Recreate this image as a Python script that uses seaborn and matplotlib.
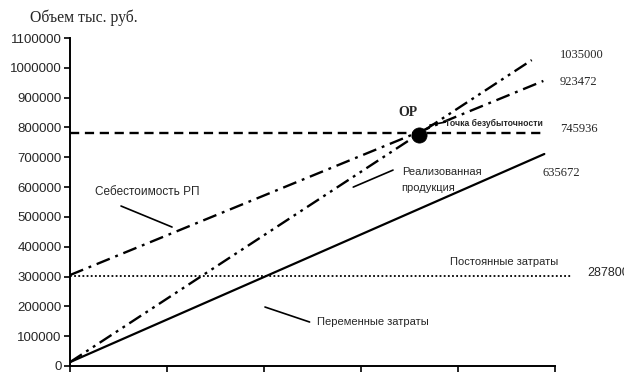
import matplotlib
matplotlib.use("Agg")
import matplotlib.pyplot as plt
from matplotlib.transforms import Bbox, TransformedBbox
import seaborn as sns
import numpy as np

# ---- data ----
revenue_x = [0.0, 4.76]
revenue_y = [13000, 1026000]
cost_x = [0.0, 4.88]
cost_y = [305000, 956000]
variable_x = [0.0, 4.89]
variable_y = [13000, 711000]
fixed_x = [0.0, 5.16]
fixed_y = [302000, 302000]
breakeven_x = [0.0, 4.87]
breakeven_y = [782000, 782000]
op_x = [3.60]
op_y = [774500]

value_labels = ["1035000", "923472", "745936", "635672", "287800"]
y_ticks = [0, 100000, 200000, 300000, 400000, 500000, 600000, 700000,
           800000, 900000, 1000000, 1100000]
x_ticks = [0, 1, 2, 3, 4, 5]

sns.set_style("ticks")
plt.rcParams['font.family'] = ['Liberation Sans', 'DejaVu Sans']

fig = plt.figure(figsize=(6.37, 3.75), dpi=100)
ax = fig.add_axes([70/637, 9/375, 485/637, 328/375])

def line(xs, ys, ls, lw=1.5, clip=True):
    sns.lineplot(x=xs, y=ys, color="black", ax=ax, lw=lw)
    ln = ax.lines[-1]
    ln.set_linestyle(ls)
    ln.set_clip_on(clip)

line(revenue_x, revenue_y, (0, (6, 2.2, 1.2, 2.2, 1.2, 2.2)), lw=1.7)
line(cost_x, cost_y, (0, (6, 2.5, 1.2, 2.5)), lw=1.7)
line(variable_x, variable_y, "-", lw=1.6)
line(fixed_x, fixed_y, (0, (1, 1.3)), lw=1.3, clip=False)
line(breakeven_x, breakeven_y, (0, (3.9, 2.4)), lw=1.7)

sns.scatterplot(x=op_x, y=op_y, s=120, color="black", edgecolor="black",
                linewidth=0.5, ax=ax, zorder=5, clip_on=False)

ax.set_xlim(0, 5)
ax.set_ylim(0, 1100000)
ax.set_xticks(x_ticks)
ax.set_xticklabels([])
ax.set_yticks(y_ticks)
ax.set_yticklabels([str(v) for v in y_ticks], fontsize=9.5)
ax.tick_params(axis="both", direction="out", length=4, width=1.2, color="black", pad=2)
for s in ["top", "right"]:
    ax.spines[s].set_visible(False)
for s in ["left", "bottom"]:
    ax.spines[s].set_linewidth(1.4)
    ax.spines[s].set_color("black")

serif = "Liberation Serif"

# value labels on the right
ax.text(5.05, 1042800, value_labels[0], family=serif, fontsize=9, va="center", ha="left", clip_on=False)
ax.text(5.05, 952000, value_labels[1], family=serif, fontsize=9, va="center", ha="left", clip_on=False)
ax.text(5.05, 794700, value_labels[2], family=serif, fontsize=9, va="center", ha="left", clip_on=False)
ax.text(4.87, 647000, value_labels[3], family=serif, fontsize=9, va="center", ha="left", clip_on=False)
t = ax.text(5.33, 311800, value_labels[4], fontsize=9, va="center", ha="left")
t.set_clip_box(TransformedBbox(Bbox([[0, 0], [624/637, 1]]), fig.transFigure))
t.set_clip_on(True)

# annotations
def leader(x0, y0, x1, y1):
    ax.plot([x0, x1], [y0, y1], color="black", lw=1.2, clip_on=False)

ax.text(0.258, 583400, "Себестоимость РП", fontsize=8.5, va="center", ha="left")
leader(0.526, 536500, 1.052, 466000)

ax.text(3.42, 650000, "Реализованная", fontsize=8, va="center", ha="left")
ax.text(3.42, 597000, "продукция", fontsize=8, va="center", ha="left")
leader(3.33, 657000, 2.92, 600000)

ax.text(3.87, 815000, "Точка безубыточности", fontsize=6.2, fontweight="bold",
        va="center", ha="left")
leader(3.87, 818000, 3.71, 808000)

ax.text(2.55, 147500, "Переменные затраты", fontsize=8, va="center", ha="left")
leader(2.01, 197800, 2.47, 147500)

ax.text(3.92, 348700, "Постоянные затраты", fontsize=8, va="center", ha="left")

ax.text(3.48, 851700, "ОР", family=serif, fontsize=10, fontweight="bold",
        va="center", ha="center")

fig.text(30/637, 1 - 18/375, "Объем тыс. руб.", family=serif, fontsize=11.3,
         va="center", ha="left")

fig.savefig("out.png", dpi=100)
